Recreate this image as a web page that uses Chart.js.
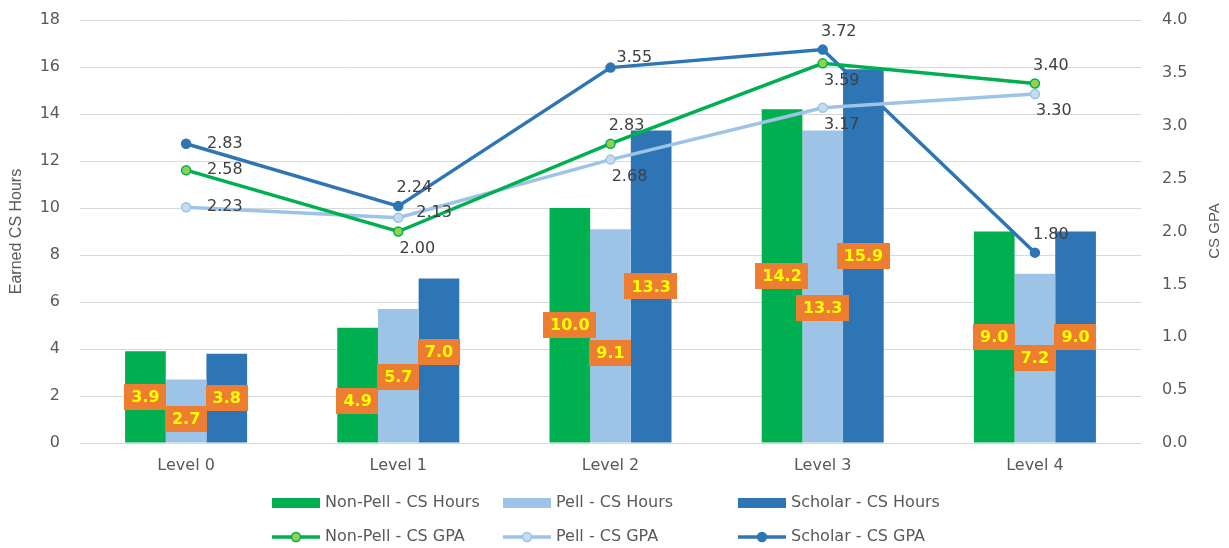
<!DOCTYPE html>
<html><head><meta charset="utf-8">
<script src="https://cdn.jsdelivr.net/npm/chart.js@4/dist/chart.umd.min.js"></script>
<style>html,body{margin:0;padding:0;background:#fff}#wrap{width:1229px;height:548px;position:relative}</style>
</head><body><div id="wrap"><canvas id="c" width="1229" height="548"></canvas></div>
<script>
const categories = ['Level 0', 'Level 1', 'Level 2', 'Level 3', 'Level 4'];
const nonPellHours = [3.9, 4.9, 10.0, 14.2, 9.0];
const pellHours = [2.7, 5.7, 9.1, 13.3, 7.2];
const scholarHours = [3.8, 7.0, 13.3, 15.9, 9.0];
const nonPellGPA = [2.58, 2.00, 2.83, 3.59, 3.40];
const pellGPA = [2.23, 2.13, 2.68, 3.17, 3.30];
const scholarGPA = [2.83, 2.24, 3.55, 3.72, 1.80];
const hoursAxis = { min: 0, max: 18, step: 2, title: 'Earned CS Hours' };
const gpaAxis = { min: 0, max: 4, step: 0.5, title: 'CS GPA' };

const C_GREEN = '#00B050', C_LIGHT = '#9DC3E6', C_BLUE = '#2E75B6';
const TICK_COLOR = '#595959';
Chart.defaults.font.family = 'DejaVu Sans';

const barLabelPlugin = {
  id: 'barLabels',
  afterDatasetsDraw(chart) {
    const ctx = chart.ctx;
    ctx.save();
    ctx.font = 'bold 16px "DejaVu Sans"';
    ctx.textAlign = 'center';
    ctx.textBaseline = 'middle';
    chart.data.datasets.forEach((ds, di) => {
      if (ds.type !== 'bar') return;
      const meta = chart.getDatasetMeta(di);
      meta.data.forEach((el, i) => {
        const txt = ds.data[i].toFixed(1);
        const frac = ds.labelFrac[i];
        const cx = el.x;
        const cy = el.base + (el.y - el.base) * frac;
        const w = ctx.measureText(txt).width + 14;
        const h = 26;
        ctx.fillStyle = '#ED7D31';
        ctx.fillRect(Math.round(cx - w / 2), Math.round(cy - h / 2), Math.round(w), h);
        ctx.fillStyle = '#FFFF00';
        ctx.fillText(txt, cx, cy + 1);
      });
    });
    // line labels
    ctx.font = '16px "DejaVu Sans"';
    ctx.fillStyle = '#404040';
    ctx.textBaseline = 'middle';
    chart.data.datasets.forEach((ds, di) => {
      if (ds.type !== 'line') return;
      const meta = chart.getDatasetMeta(di);
      meta.data.forEach((el, i) => {
        const txt = ds.data[i].toFixed(2);
        const w = ctx.measureText(txt).width;
        const pos = ds.labelPos[i];
        let x, y;
        if (pos === 'right') { x = el.x + 21 + w / 2; y = el.y; }
        else if (pos === 'rightlow') { x = el.x + 18 + w / 2; y = el.y - 5; }
        else if (pos === 'upright') { x = el.x + 6 + w / 2; y = el.y - 10; }
        else if (pos === 'above') { x = el.x + 16; y = el.y - 18; }
        else { x = el.x + 19; y = el.y + 17; }
        ctx.textAlign = 'center';
        ctx.fillText(txt, x, y);
      });
    });
    ctx.restore();
  },
  afterDraw(chart) {
    const ctx = chart.ctx;
    ctx.save();
    // right axis title
    ctx.translate(1215, 231);
    ctx.rotate(-Math.PI / 2);
    ctx.font = '15px "Liberation Sans"';
    ctx.fillStyle = TICK_COLOR;
    ctx.textAlign = 'center';
    ctx.textBaseline = 'middle';
    ctx.fillText(gpaAxis.title, 0, 0);
    ctx.restore();
    // legend
    ctx.save();
    const colX = [272, 503, 738];
    const rowY = [503, 537];
    ctx.font = '16px "DejaVu Sans"';
    ctx.textBaseline = 'middle';
    ctx.textAlign = 'left';
    chart.data.datasets.forEach((ds, di) => {
      const isBar = ds.type === 'bar';
      const col = ds.legendCol;
      const x = colX[col];
      const y = rowY[isBar ? 0 : 1];
      if (isBar) {
        ctx.fillStyle = ds.backgroundColor;
        ctx.fillRect(x, y - 5, 48, 10);
      } else {
        ctx.strokeStyle = ds.borderColor;
        ctx.lineWidth = 3.5;
        ctx.beginPath(); ctx.moveTo(x, y); ctx.lineTo(x + 48, y); ctx.stroke();
        ctx.fillStyle = ds.pointBackgroundColor;
        ctx.strokeStyle = ds.pointBorderColor;
        ctx.lineWidth = 1.5;
        ctx.beginPath(); ctx.arc(x + 24, y, 4.5, 0, Math.PI * 2); ctx.fill(); ctx.stroke();
      }
      ctx.fillStyle = TICK_COLOR;
      ctx.fillText(ds.label, x + 53, y);
    });
    ctx.restore();
  }
};

new Chart(document.getElementById('c'), {
  data: {
    labels: categories,
    datasets: [
      { type: 'line', label: 'Non-Pell - CS GPA', data: nonPellGPA, yAxisID: 'y1', order: 1,
        borderColor: C_GREEN, borderWidth: 3.5, pointRadius: 4.5, pointBackgroundColor: '#92D050',
        pointBorderColor: C_GREEN, pointBorderWidth: 1.5, tension: 0, legendCol: 0,
        labelPos: ['right', 'below', 'above', 'below', 'above'] },
      { type: 'line', label: 'Pell - CS GPA', data: pellGPA, yAxisID: 'y1', order: 1,
        borderColor: C_LIGHT, borderWidth: 3.5, pointRadius: 4.5, pointBackgroundColor: '#C5DCF0',
        pointBorderColor: C_LIGHT, pointBorderWidth: 1.5, tension: 0, legendCol: 1,
        labelPos: ['right', 'rightlow', 'below', 'below', 'below'] },
      { type: 'line', label: 'Scholar - CS GPA', data: scholarGPA, yAxisID: 'y1', order: 1,
        borderColor: C_BLUE, borderWidth: 3.5, pointRadius: 4.5, pointBackgroundColor: C_BLUE,
        pointBorderColor: C_BLUE, pointBorderWidth: 1.5, tension: 0, legendCol: 2,
        labelPos: ['right', 'above', 'upright', 'above', 'above'] },
      { type: 'bar', label: 'Non-Pell - CS Hours', data: nonPellHours, yAxisID: 'y', order: 2,
        backgroundColor: C_GREEN, categoryPercentage: 0.575, barPercentage: 1.0, legendCol: 0,
        labelFrac: [0.5, 0.36, 0.5, 0.5, 0.5] },
      { type: 'bar', label: 'Pell - CS Hours', data: pellHours, yAxisID: 'y', order: 2,
        backgroundColor: C_LIGHT, categoryPercentage: 0.575, barPercentage: 1.0, legendCol: 1,
        labelFrac: [0.38, 0.49, 0.42, 0.43, 0.5] },
      { type: 'bar', label: 'Scholar - CS Hours', data: scholarHours, yAxisID: 'y', order: 2,
        backgroundColor: C_BLUE, categoryPercentage: 0.575, barPercentage: 1.0, legendCol: 2,
        labelFrac: [0.5, 0.55, 0.5, 0.5, 0.5] }
    ]
  },
  options: {
    responsive: false,
    animation: false,
    devicePixelRatio: 1,
    layout: { padding: { top: 20, left: 0, right: 0, bottom: 0 } },
    plugins: { legend: { display: false }, tooltip: { enabled: false } },
    scales: {
      x: {
        grid: { display: false, drawTicks: false },
        border: { display: false },
        ticks: { color: TICK_COLOR, font: { size: 16 }, padding: 13 },
        afterFit(s) { s.height = 105; s.paddingLeft = 0; s.paddingRight = 0; }
      },
      y: {
        position: 'left',
        min: hoursAxis.min, max: hoursAxis.max,
        grid: { color: '#D9D9D9', lineWidth: 1, drawTicks: false },
        border: { display: false },
        ticks: { stepSize: hoursAxis.step, color: TICK_COLOR, font: { size: 16 }, padding: 20 },
        title: { display: true, text: hoursAxis.title, color: TICK_COLOR,
                 font: { family: 'Liberation Sans', size: 16 }, padding: { top: 7, bottom: 0 } },
        afterFit(s) { s.width = 80; s.paddingTop = 0; s.paddingBottom = 0; }
      },
      y1: {
        position: 'right',
        min: gpaAxis.min, max: gpaAxis.max,
        grid: { display: false, drawTicks: false },
        border: { display: false },
        ticks: { stepSize: gpaAxis.step, color: TICK_COLOR, font: { size: 16 }, padding: 21,
                 callback: v => Number(v).toFixed(1) },
        afterFit(s) { s.width = 88; s.paddingTop = 0; s.paddingBottom = 0; }
      }
    }
  },
  plugins: [barLabelPlugin]
});
</script></body></html>
